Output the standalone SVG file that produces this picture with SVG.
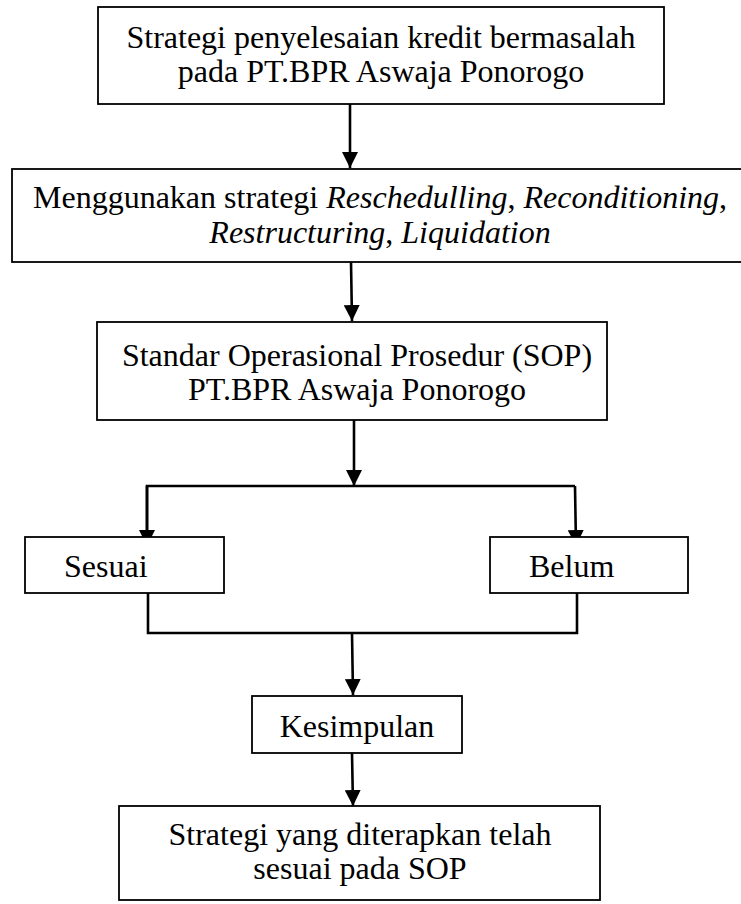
<svg xmlns="http://www.w3.org/2000/svg" width="741" height="904" viewBox="0 0 741 904">
<defs>
<style>
.box{fill:#fff;stroke:#000;stroke-width:1.8}
.t{font-family:"Liberation Serif","Times New Roman",serif;font-size:32px;fill:#000;text-anchor:middle}
.ts{font-family:"Liberation Serif","Times New Roman",serif;font-size:32px;fill:#000}
.i{font-style:italic}
.c{fill:none;stroke:#000;stroke-width:2.6}
</style>
<marker id="ah" markerUnits="userSpaceOnUse" markerWidth="16" markerHeight="16" refX="16" refY="8" orient="auto" viewBox="0 0 16 16">
<path d="M0,0 L16,8 L0,16 z" fill="#000"/>
</marker>
</defs>
<rect width="741" height="904" fill="#fff"/>
<g id="connectors">
<line class="c" x1="350" y1="104" x2="350" y2="168" marker-end="url(#ah)"/>
<line class="c" x1="351" y1="262" x2="352" y2="321" marker-end="url(#ah)"/>
<line class="c" x1="354" y1="420" x2="354" y2="486" marker-end="url(#ah)"/>
<polyline class="c" points="147,547 147,486 575,486"/>
<line class="c" x1="147" y1="486" x2="147" y2="546" marker-end="url(#ah)"/>
<line class="c" x1="575" y1="486" x2="576" y2="546" marker-end="url(#ah)"/>
<polyline class="c" points="148,591 148,633 577,633 577,593"/>
<line class="c" x1="352" y1="633" x2="353" y2="695" marker-end="url(#ah)"/>
<line class="c" x1="352" y1="753" x2="353" y2="806" marker-end="url(#ah)"/>
</g>
<g id="node1">
<rect class="box" x="98" y="7" width="566" height="97"/>
<text class="t" x="381" y="48">Strategi penyelesaian kredit bermasalah</text>
<text class="t" x="381" y="82">pada PT.BPR Aswaja Ponorogo</text>
</g>
<g id="node2">
<rect class="box" x="12" y="169" width="740" height="93"/>
<text class="t" x="380" y="208">Menggunakan strategi <tspan class="i">Reschedulling</tspan>, <tspan class="i">Reconditioning</tspan>,</text>
<text class="t" x="380" y="243"><tspan class="i">Restructuring</tspan>, <tspan class="i">Liquidation</tspan></text>
</g>
<g id="node3">
<rect class="box" x="97" y="322" width="510" height="98"/>
<text class="t" x="357" y="366">Standar Operasional Prosedur (SOP)</text>
<text class="t" x="357" y="400">PT.BPR Aswaja Ponorogo</text>
</g>
<g id="node4">
<rect class="box" x="25" y="537" width="199" height="56"/>
<text class="ts" x="64" y="577">Sesuai</text>
</g>
<g id="node5">
<rect class="box" x="490" y="537" width="198" height="56"/>
<text class="ts" x="529" y="577">Belum</text>
</g>
<g id="node6">
<rect class="box" x="252" y="696" width="210" height="57"/>
<text class="t" x="357" y="737">Kesimpulan</text>
</g>
<g id="node7">
<rect class="box" x="119" y="806" width="481" height="94"/>
<text class="t" x="360" y="845">Strategi yang diterapkan telah</text>
<text class="t" x="360" y="879">sesuai pada SOP</text>
</g>
</svg>
